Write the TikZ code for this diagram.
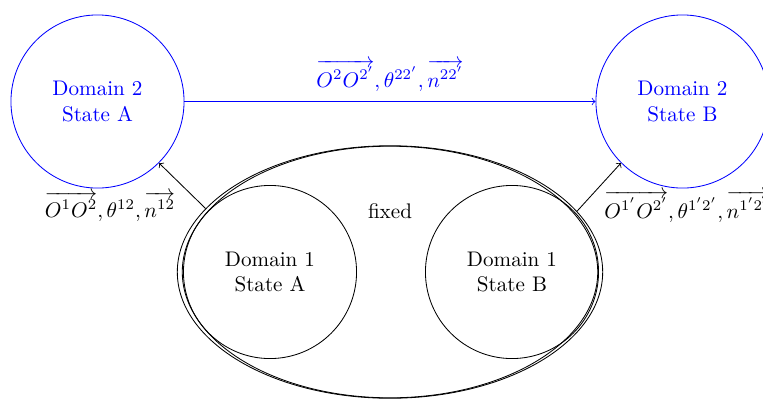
\documentclass[tikz,border=0pt]{standalone}
\usepackage{amsmath}
\usetikzlibrary{shapes.geometric}
\begin{document}
\begin{tikzpicture}[x=0.4737pt,y=-0.4737pt,
  dom/.style={draw,circle,minimum size=82pt,inner sep=0pt,align=center},
  blue dom/.style={dom,blue,text=blue},
  ell/.style={draw,ellipse,inner sep=0pt},
  lbl/.style={inner sep=0pt}]
\useasboundingbox (0,0) rectangle (763,399);
\node[blue dom] (A2) at (97.5,101.5) {Domain 2\\State A};
\node[blue dom] (B2) at (682.5,101.5) {Domain 2\\State B};
\node[ell,minimum width=201.5pt,minimum height=119.6pt] (E) at (390,272) {};
\node[ell,minimum width=196.8pt,minimum height=119.2pt] (Ei) at (390,272) {};
\node[dom] (A1) at (270,272) {Domain 1\\State A};
\node[dom] (B1) at (512,272) {Domain 1\\State B};
\node[lbl] (fx) at (390,211) {fixed};
\draw[->,blue] (A2.east) -- (B2.west);
\node[lbl,blue,anchor=base] (t) at (390,87) {$\overrightarrow{O^2O^{2'}},\theta^{22'},\overrightarrow{n^{22'}}$};
\draw[->] (E.161.5) -- (A2.-45);
\draw[->] (E.18.5) -- (B2.-135);
\node[lbl,anchor=base] (l) at (110,217) {$\overrightarrow{O^1O^2},\theta^{12},\overrightarrow{n^{12}}$};
\node[lbl,anchor=base west] (r) at (604,218) {$\overrightarrow{O^{1'}O^{2'}},\theta^{1'2'},\overrightarrow{n^{1'2'}}$};
\end{tikzpicture}
\end{document}
